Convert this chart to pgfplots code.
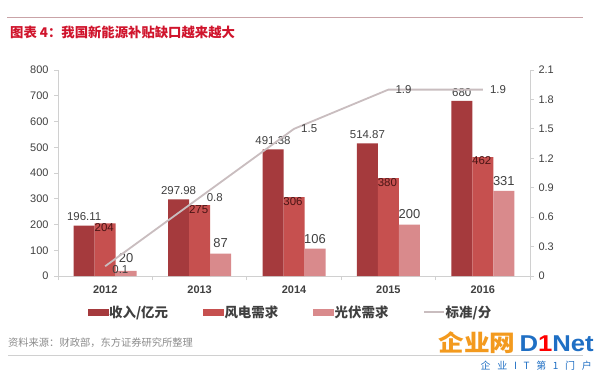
\documentclass[border=0pt]{standalone}
\usepackage{fontspec}
\setmainfont{Liberation Sans}
\newfontfamily\cjk{Noto Sans CJK SC}
\usepackage{pgfplots}
\pgfplotsset{compat=1.18}
\definecolor{cA}{HTML}{A53A3D}
\definecolor{cB}{HTML}{C6504F}
\definecolor{cC}{HTML}{D98A8C}
\definecolor{cL}{HTML}{C9BDBF}
\definecolor{tk}{HTML}{404040}
\definecolor{axl}{HTML}{D0D0D0}
\definecolor{titlered}{HTML}{D0142C}
\definecolor{toprule}{HTML}{C9A3A7}
\definecolor{srcgrey}{HTML}{8C8C8C}
\definecolor{wmorange}{HTML}{F39A1E}
\definecolor{wmblue}{HTML}{1F6FC4}
\definecolor{lab2}{HTML}{4A1515}
\newcommand\upby[1]{\raisebox{3bp}[\height][\depth]{#1}}
\newcommand\downby[1]{\raisebox{-3bp}[\height][\depth]{#1}}
\begin{document}
\begin{tikzpicture}[x=1bp,y=1bp]
\useasboundingbox (0,0) rectangle (600,371);
\fill[white] (0,0) rectangle (600,371);
\draw[toprule, line width=0.8bp] (7,354) -- (583,354);
\node[anchor=west, text=titlered, font=\cjk\bfseries\fontsize{13.4}{16}\selectfont, inner sep=0] at (10,339) {图表 4：我国新能源补贴缺口越来越大};
\node[anchor=west, text=srcgrey, font=\cjk\fontsize{10.3}{12}\selectfont, inner sep=0] at (8,28) {资料来源：财政部，东方证券研究所整理};
\draw[axl, line width=0.8bp] (8,16) -- (583,16);

\begin{axis}[at={(58bp,95bp)}, anchor=south west, scale only axis,
  width=472bp, height=206bp, clip=false,
  xmin=-0.5, xmax=4.5, ymin=0, ymax=800,
  ytick={0,100,...,800},
  axis x line*=bottom, axis y line*=left,
  axis line style={axl, line width=0.8bp},
  xtick={0,1,2,3,4}, xticklabels={2012,2013,2014,2015,2016},
  minor xtick={-0.5,0.5,1.5,2.5,3.5,4.5},
  major x tick style={draw=none},
  tick style={axl, line width=0.8bp},
  tick align=outside, major tick length=4bp, minor tick length=4bp,
  /pgf/number format/assume math mode=true,
  yticklabel style={font=\fontsize{11}{13}\selectfont, text=tk, xshift=-2bp},
  xticklabel style={font=\bfseries\fontsize{11}{13}\selectfont, text=tk, yshift=-2bp},
  point meta=explicit symbolic,
  every node near coord/.append style={font=\fontsize{11.5}{13}\selectfont, text=tk},
]
\addplot[ybar, bar width=21bp, bar shift=-21bp, fill=cA, draw=none,
  nodes near coords, every node near coord/.append style={anchor=south, xshift=-21bp, yshift=1bp}]
  coordinates {(0,196.11)[196.11] (1,297.98)[297.98] (2,491.38)[491.38] (3,514.87)[514.87] (4,680)[680]};
\addplot[ybar, bar width=21bp, bar shift=0bp, fill=cB, draw=none,
  nodes near coords, every node near coord/.append style={anchor=center, text=lab2, yshift=-4bp, xshift=-1bp}]
  coordinates {(0,204)[204] (1,275)[275] (2,306)[306] (3,380)[380] (4,462)[462]};
\addplot[ybar, bar width=21bp, bar shift=21bp, fill=cC, draw=none,
  nodes near coords, every node near coord/.append style={anchor=south, xshift=21bp, yshift=2bp, font=\fontsize{13}{15}\selectfont}]
  coordinates {(0,20)[\upby{20}] (1,87)[87] (2,106)[106] (3,200)[200] (4,331)[331]};
\end{axis}

\begin{axis}[at={(58bp,95bp)}, anchor=south west, scale only axis,
  width=472bp, height=206bp, clip=false,
  xmin=-0.5, xmax=4.5, ymin=0, ymax=2.1,
  axis x line=none, axis y line*=right,
  axis line style={axl, line width=0.8bp},
  ytick={0,0.3,0.6,0.9,1.2,1.5,1.8,2.1},
  yticklabels={0,0.3,0.6,0.9,1.2,1.5,1.8,2.1},
  tick style={axl, line width=0.8bp},
  tick align=outside, major tick length=4bp,
  /pgf/number format/assume math mode=true,
  yticklabel style={font=\fontsize{11}{13}\selectfont, text=tk, xshift=1bp},
  point meta=explicit symbolic,
  legend columns=4,
  legend style={at={(0.4915,-0.175)}, anchor=center, draw=none, fill=none,
    font=\cjk\bfseries\fontsize{13.5}{15}\selectfont, text=tk,
    inner sep=0pt,
    nodes={inner sep=1bp},
    /tikz/every even column/.append style={column sep=34bp}},
]
\addlegendimage{legend image code/.code={\fill[cA] (0bp,-3bp) rectangle (20bp,3bp);}}
\addlegendentry{收入/亿元}
\addlegendimage{legend image code/.code={\fill[cB] (0bp,-3bp) rectangle (20bp,3bp);}}
\addlegendentry{风电需求}
\addlegendimage{legend image code/.code={\fill[cC] (0bp,-3bp) rectangle (20bp,3bp);}}
\addlegendentry{光伏需求}
\addlegendimage{legend image code/.code={\draw[cL, line width=1.2bp] (0bp,0bp) -- (20bp,0bp);}}
\addlegendentry{标准/分}
\addplot[cL, line width=1.8bp, mark=none,
  nodes near coords, every node near coord/.append style={anchor=west, xshift=3bp, font=\fontsize{11.5}{13}\selectfont, text=tk}]
  coordinates {(0,0.1)[\downby{0.1}] (1,0.8)[0.8] (2,1.5)[1.5] (3,1.9)[1.9] (4,1.9)[1.9]};
\end{axis}

\node[font=\bfseries\fontsize{23}{25}\selectfont, inner sep=0, anchor=east, xscale=1.12] at (594,28)
  {\textcolor{wmorange}{\cjk 企业网}\,\textcolor{wmblue}{D\textcolor{red}{1}Net}};
\node[font=\cjk\fontsize{10}{11}\selectfont, text=wmblue, anchor=east, inner sep=0] at (592,5)
  {企\ \ \ 业\ \ \ I\ \ \ T\ \ \ 第\ \ \ 1\ \ \ 门\ \ \ 户};
\end{tikzpicture}
\end{document}
